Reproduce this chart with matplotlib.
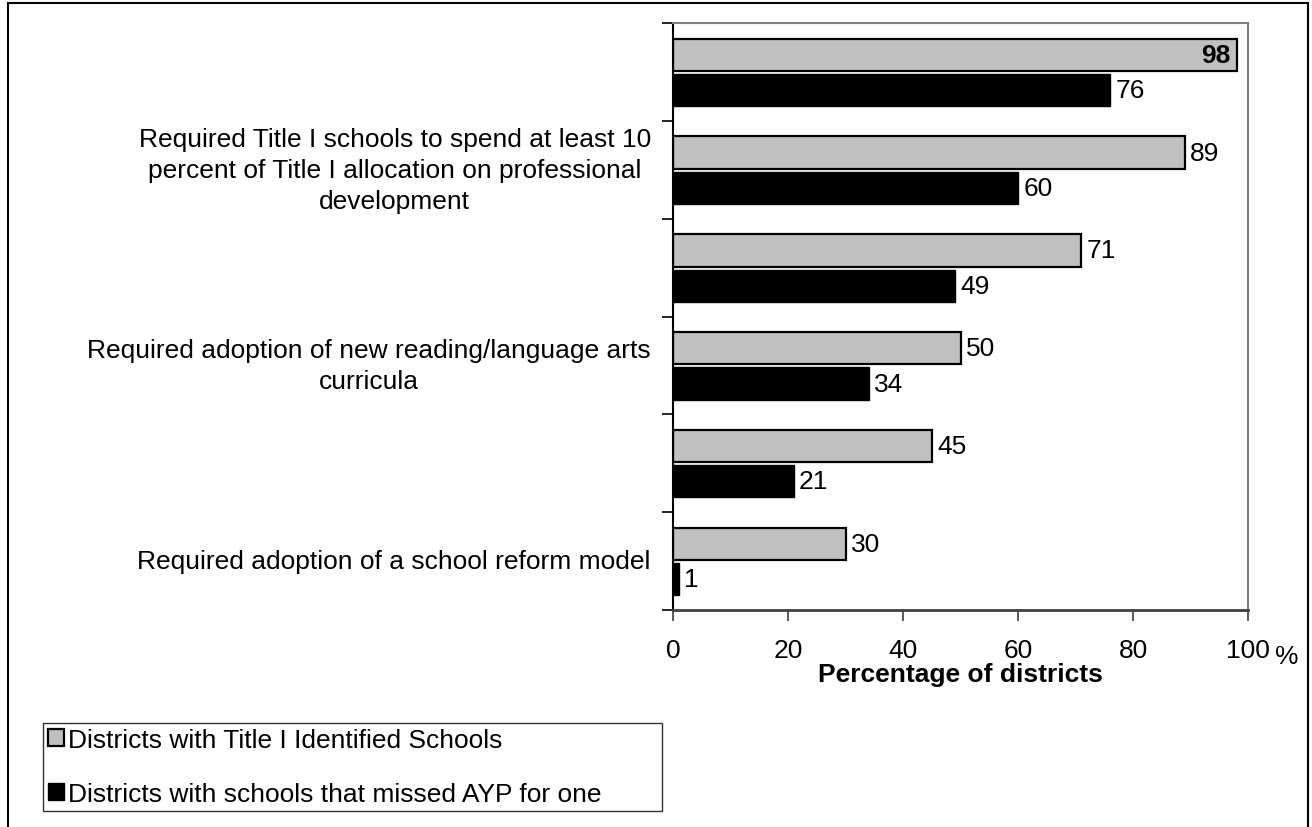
import matplotlib.pyplot as plt
import matplotlib.patches as patches
import numpy as np

plt.rcParams['font.family'] = ['Liberation Sans', 'DejaVu Sans']

# data, top to bottom (Excel only shows every other category label)
categories = [
    "",
    "Required Title I schools to spend at least 10\npercent of Title I allocation on professional\ndevelopment",
    "",
    "Required adoption of new reading/language arts\ncurricula",
    "",
    "Required adoption of a school reform model",
]
identified = [98, 89, 71, 50, 45, 30]
missed_ayp = [76, 60, 49, 34, 21, 1]
series_names = ["Districts with Title I Identified Schools",
                "Districts with schools that missed AYP for one"]
xticks = [0, 20, 40, 60, 80, 100]

FS = 19

fig = plt.figure(figsize=(13.12, 8.28), dpi=100)
ax = fig.add_axes([673 / 1312, 1 - 611 / 828, (1248 - 673) / 1312, (611 - 24) / 828])

# outer frame of the picture
fig.add_artist(patches.Rectangle((8 / 1312, -0.05), (1308 - 8) / 1312, 1.05 - 4 / 828,
                                 transform=fig.transFigure, fill=False,
                                 edgecolor='black', linewidth=1.5))

y = np.arange(len(categories))
h = 0.33
b1 = ax.barh(y - 0.175, identified, height=h, color='#c0c0c0',
             edgecolor='black', linewidth=1.6, label=series_names[0])
b2 = ax.barh(y + 0.185, missed_ayp, height=h, color='black',
             edgecolor='black', linewidth=1.0, label=series_names[1])

for yy, v in zip(y, identified):
    if v >= 95:
        ax.text(v - 1.0, yy - 0.175, str(v), ha='right', va='center',
                fontsize=FS, fontweight='bold')
    else:
        ax.text(v + 0.9, yy - 0.175, str(v), ha='left', va='center', fontsize=FS)
for yy, v in zip(y, missed_ayp):
    ax.text(v + 0.9, yy + 0.185, str(v), ha='left', va='center', fontsize=FS)

ax.set_xlim(0, 100)
ax.set_ylim(len(categories) - 0.5, -0.5)

# category boundaries as major ticks, labels on minor ticks at centers
ax.set_yticks(np.arange(len(categories) + 1) - 0.5)
ax.set_yticklabels([])
ax.set_yticks(y, minor=True)
ax.set_yticklabels(categories, minor=True, fontsize=FS, ha='right', va='center',
                   multialignment='center')
for lbl in ax.get_yticklabels(minor=True):
    lbl.set_linespacing(1.37)
ax.tick_params(axis='y', which='minor', length=0, pad=16)
ax.tick_params(axis='y', which='major', direction='out', length=8, width=1.2)

ax.set_xticks(xticks)
ax.set_xticklabels([str(t) for t in xticks], fontsize=FS)
ax.tick_params(axis='x', direction='out', length=8, width=1.2, pad=12,
               color='#404040')

ax.set_xlabel("Percentage of districts", fontsize=FS, fontweight='bold',
              labelpad=0)
fig.text(1287 / 1312, 1 - 657 / 828, "%", fontsize=FS, ha='center', va='center')

ax.spines['left'].set_color('black')
ax.spines['left'].set_linewidth(1.5)
ax.spines['bottom'].set_color('#404040')
ax.spines['bottom'].set_linewidth(2)
ax.spines['right'].set_color('#808080')
ax.spines['top'].set_color('#808080')
ax.spines['right'].set_linewidth(1.5)
ax.spines['top'].set_linewidth(1.5)

leg = fig.legend(handles=[b1, b2], loc='center left',
                 bbox_to_anchor=(43 / 1312, 1 - 812 / 828, (662 - 43) / 1312, (812 - 724) / 828),
                 mode='expand', fontsize=FS, frameon=True, fancybox=False,
                 handlelength=0.6, handleheight=0.6, handletextpad=0.15,
                 labelspacing=1.15, borderaxespad=0, borderpad=0.2)
leg.get_frame().set_edgecolor('black')
leg.get_frame().set_linewidth(1.0)

fig.savefig('out.png', dpi=100)
